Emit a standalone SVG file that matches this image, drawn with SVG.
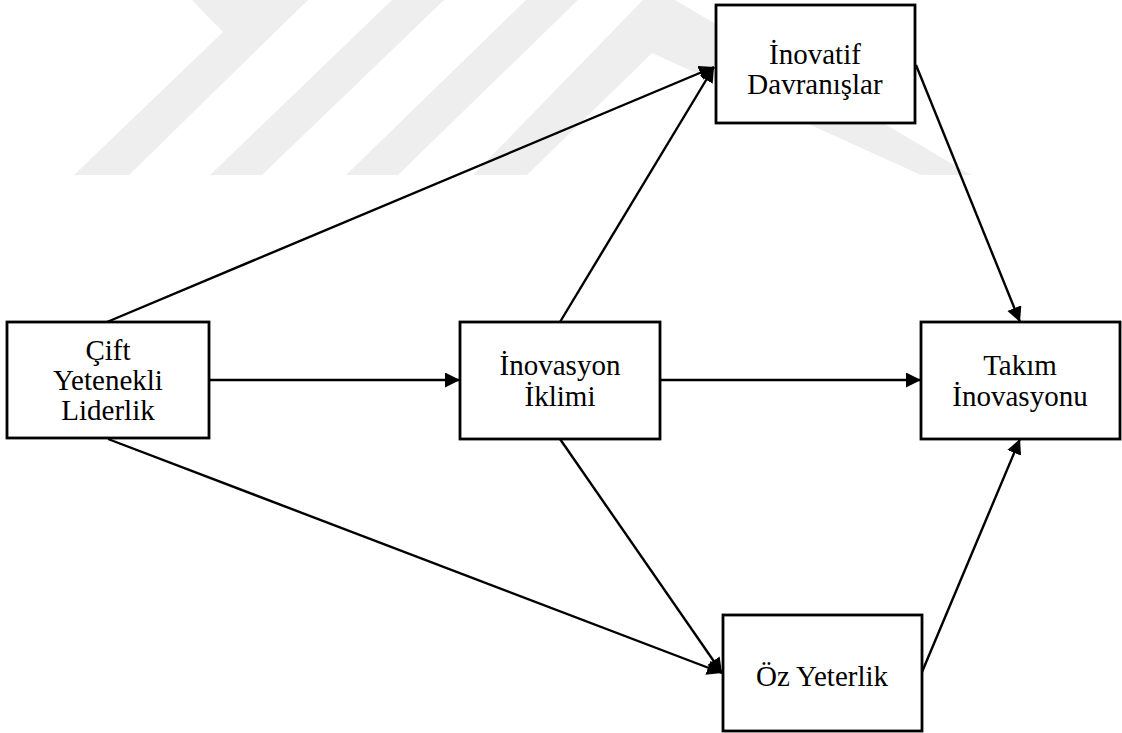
<svg xmlns="http://www.w3.org/2000/svg" width="1122" height="733" viewBox="0 0 1122 733">
  <defs>
    <marker id="arrow" markerUnits="userSpaceOnUse" markerWidth="16" markerHeight="16" refX="15" refY="7.5" orient="auto">
      <path d="M0,0 L15,7.5 L0,15 Z" fill="#000"/>
    </marker>
    <style>
      .box { fill: #fff; stroke: #000; stroke-width: 2.8; }
      .lbl { font-family: "Liberation Serif", "Times New Roman", serif; font-size: 29px; fill: #000; text-anchor: middle; }
      .edge { stroke: #000; stroke-width: 2.4; fill: none; marker-end: url(#arrow); }
      .mark { fill: #eeeeee; }
    </style>
  </defs>

  <rect width="1122" height="733" fill="#fff"/>

  <!-- faint background emblem -->
  <g id="emblem">
    <polygon class="mark" points="74,175 129,175 308,0 192,0 223,32"/>
    <polygon class="mark" points="210,175 262,175 444,0 392,0"/>
    <polygon class="mark" points="346,175 398,175 578,0 526,0"/>
    <polygon class="mark" points="473,175 527,175 652,53 921,175 971,175 675,0 643,0"/>
  </g>

  <g id="connectors">
    <line class="edge" x1="107" y1="322" x2="714" y2="67"/>
    <line class="edge" x1="560" y1="322" x2="714" y2="67"/>
    <line class="edge" x1="209" y1="380" x2="460" y2="380"/>
    <line class="edge" x1="660" y1="380" x2="921" y2="380"/>
    <line class="edge" x1="916" y1="65" x2="1020" y2="322"/>
    <line class="edge" x1="560" y1="439" x2="722" y2="673"/>
    <line class="edge" x1="108" y1="439" x2="722" y2="673"/>
    <line class="edge" x1="922" y1="672" x2="1020" y2="439"/>
  </g>

  <g id="cift-yetenekli-liderlik">
    <rect class="box" x="7" y="322" width="202" height="116"/>
    <text class="lbl" x="108" y="360">Çift</text>
    <text class="lbl" x="108" y="390">Yetenekli</text>
    <text class="lbl" x="108" y="420">Liderlik</text>
  </g>

  <g id="inovasyon-iklimi">
    <rect class="box" x="460" y="322" width="200" height="117"/>
    <text class="lbl" x="560" y="375">İnovasyon</text>
    <text class="lbl" x="560" y="406">İklimi</text>
  </g>

  <g id="inovatif-davranislar">
    <rect class="box" x="716" y="5" width="199" height="118"/>
    <text class="lbl" x="815" y="64">İnovatif</text>
    <text class="lbl" x="815" y="94">Davranışlar</text>
  </g>

  <g id="takim-inovasyonu">
    <rect class="box" x="921" y="322" width="199" height="117"/>
    <text class="lbl" x="1020" y="375">Takım</text>
    <text class="lbl" x="1020" y="406">İnovasyonu</text>
  </g>

  <g id="oz-yeterlik">
    <rect class="box" x="723" y="615" width="199" height="116"/>
    <text class="lbl" x="822" y="686">Öz Yeterlik</text>
  </g>
</svg>
